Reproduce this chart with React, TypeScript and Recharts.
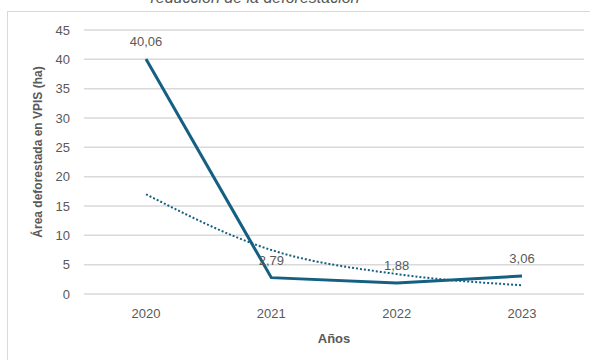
import { LineChart, Line, XAxis, YAxis, CartesianGrid, LabelList } from 'recharts';

const years = ['2020', '2021', '2022', '2023'];
const deforestedArea = [40.06, 2.79, 1.88, 3.06];
// exponential trend line
const trendValues = [17.0, 7.5, 3.4, 1.5];
const yTicks = [0, 5, 10, 15, 20, 25, 30, 35, 40, 45];

const data = years.map((year, i) => ({
  year,
  area: deforestedArea[i],
  trend: trendValues[i],
}));

const LINE = '#156082';
const TEXT = '#595959';
const GRID = '#d9d9d9';
const FONT = '"Liberation Sans", Arial, sans-serif';

const fmt = (v: any) => Number(v).toFixed(2).replace('.', ',');

export default function App() {
  return (
    <div style={{ position: 'absolute', left: 0, top: 0, width: 590, height: 360, overflow: 'hidden', background: '#fff', fontFamily: FONT }}>
      <div
        style={{
          position: 'absolute', left: 0, top: -10, width: 510, textAlign: 'center',
          fontSize: 16, lineHeight: '16px', fontStyle: 'italic', color: TEXT,
        }}
      >
        reducción de la deforestación
      </div>
      <div style={{ position: 'absolute', left: 7, top: 11, width: 620, height: 400, border: `1.5px solid ${GRID}` }} />
      <div style={{ position: 'absolute', left: 0, top: 0 }}>
        <LineChart width={590} height={360} data={data} margin={{ top: 30, right: 6, bottom: 14, left: 8 }}>
          <CartesianGrid vertical={false} stroke={GRID} strokeWidth={1.5} />
          <XAxis
            dataKey="year"
            axisLine={false}
            tickLine={false}
            tickMargin={9}
            height={52}
            padding={{ left: 62, right: 62 }}
            tick={{ fill: TEXT, fontSize: 13, fontFamily: FONT }}
            label={{ value: 'Años', position: 'insideBottom', offset: 3, fill: TEXT, fontSize: 13, fontWeight: 'bold', fontFamily: FONT }}
          />
          <YAxis
            domain={[0, 45]}
            ticks={yTicks}
            interval={0}
            axisLine={false}
            tickLine={false}
            tickMargin={8}
            width={76}
            tick={{ fill: TEXT, fontSize: 13, fontFamily: FONT }}
            label={{
              value: 'Área deforestada en VPIS (ha)', angle: -90, position: 'insideLeft', offset: 30, dy: -10,
              fill: TEXT, fontSize: 12, fontWeight: 'bold', fontFamily: FONT, style: { textAnchor: 'middle' },
            }}
          />
          <Line
            dataKey="area"
            type="linear"
            stroke={LINE}
            strokeWidth={3}
            dot={false}
            activeDot={false}
            isAnimationActive={false}
          >
            <LabelList dataKey="area" position="top" offset={13} formatter={fmt} fill={TEXT} fontSize={13} fontFamily={FONT} />
          </Line>
          <Line
            dataKey="trend"
            type="monotone"
            stroke={LINE}
            strokeWidth={2}
            strokeDasharray="2 2"
            dot={false}
            activeDot={false}
            isAnimationActive={false}
          />
        </LineChart>
      </div>
    </div>
  );
}
